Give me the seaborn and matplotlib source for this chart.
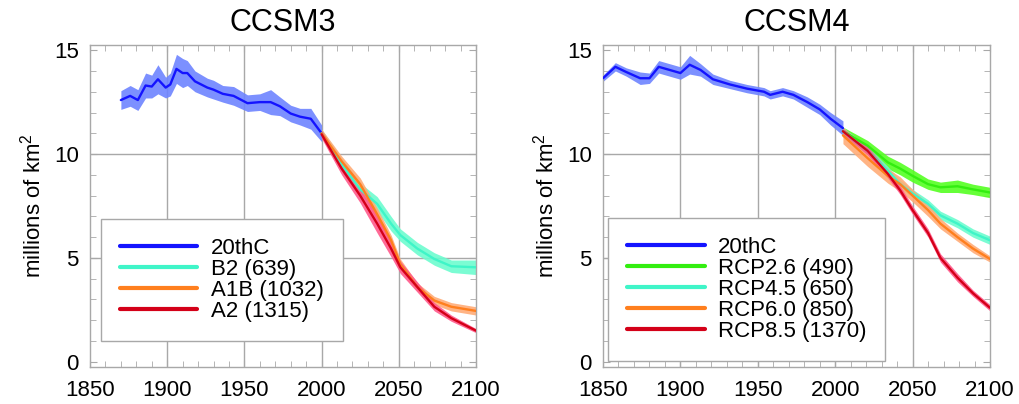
import numpy as np
import pandas as pd
import matplotlib
matplotlib.use("Agg")
import matplotlib.pyplot as plt
import seaborn as sns
from matplotlib.ticker import MultipleLocator

# ---------------- data ----------------
ccsm3_hist_years = [1870, 1876, 1881, 1886, 1890, 1894, 1899, 1902, 1906, 1910, 1913, 1918,
                    1926, 1930, 1936, 1943, 1952, 1960, 1967, 1973, 1980, 1986, 1993, 2000]
ccsm3_hist = [12.6, 12.8, 12.6, 13.3, 13.25, 13.6, 13.2, 13.35, 14.1, 13.9, 13.9, 13.5,
              13.2, 13.1, 12.9, 12.8, 12.45, 12.5, 12.5, 12.3, 11.95, 11.8, 11.7, 11.0]
ccsm3_hist_spread = [0.45, 0.5, 0.5, 0.6, 0.55, 0.7, 0.5, 0.55, 0.7, 0.7, 0.6, 0.5,
                     0.45, 0.45, 0.4, 0.45, 0.4, 0.4, 0.6, 0.45, 0.4, 0.4, 0.5, 0.4]

ccsm3_fut_years = [2000, 2013, 2025, 2036, 2045, 2051, 2062, 2073, 2084, 2100]
ccsm3_b2 = [11.0, 9.5, 8.3, 7.6, 6.65, 6.1, 5.45, 4.95, 4.6, 4.55]
ccsm3_a1b = [11.0, 9.65, 8.55, 7.1, 5.85, 4.7, 3.6, 2.95, 2.65, 2.45]
ccsm3_a2 = [10.95, 9.3, 8.0, 6.65, 5.45, 4.55, 3.6, 2.65, 2.1, 1.5]
ccsm3_b2_spread = [0.2, 0.3, 0.3, 0.35, 0.35, 0.3, 0.3, 0.3, 0.3, 0.35]
ccsm3_a1b_spread = [0.2, 0.25, 0.3, 0.3, 0.25, 0.25, 0.2, 0.2, 0.2, 0.2]
ccsm3_a2_spread = [0.2, 0.3, 0.35, 0.45, 0.4, 0.3, 0.25, 0.2, 0.15, 0.1]

ccsm4_hist_years = [1850, 1858, 1865, 1874, 1880, 1886, 1893, 1900, 1906, 1913, 1921,
                    1932, 1943, 1954, 1958, 1966, 1973, 1982, 1990, 1997, 2005]
ccsm4_hist = [13.65, 14.2, 13.95, 13.65, 13.65, 14.2, 14.05, 13.9, 14.3, 14.05, 13.6,
              13.35, 13.15, 13.0, 12.85, 13.0, 12.85, 12.5, 12.15, 11.7, 11.25]
ccsm4_hist_spread = [0.15, 0.2, 0.2, 0.3, 0.25, 0.3, 0.3, 0.3, 0.45, 0.3, 0.25,
                     0.2, 0.2, 0.2, 0.2, 0.2, 0.2, 0.25, 0.25, 0.3, 0.35]

ccsm4_fut_years = [2005, 2021, 2034, 2042, 2050, 2060, 2068, 2079, 2089, 2100]
ccsm4_rcp26 = [11.1, 10.4, 9.6, 9.3, 8.95, 8.55, 8.4, 8.45, 8.3, 8.15]
ccsm4_rcp45 = [11.1, 10.15, 9.2, 8.55, 8.1, 7.6, 7.05, 6.65, 6.2, 5.85]
ccsm4_rcp60 = [10.9, 9.8, 8.95, 8.55, 8.0, 7.3, 6.65, 6.0, 5.45, 4.95]
ccsm4_rcp85 = [11.1, 10.15, 9.05, 8.25, 7.3, 6.2, 5.0, 4.05, 3.3, 2.6]
ccsm4_rcp26_spread = [0.2, 0.25, 0.3, 0.3, 0.3, 0.25, 0.25, 0.3, 0.25, 0.25]
ccsm4_rcp45_spread = [0.2, 0.2, 0.2, 0.2, 0.2, 0.2, 0.2, 0.2, 0.2, 0.2]
ccsm4_rcp60_spread = [0.4, 0.4, 0.35, 0.35, 0.3, 0.3, 0.25, 0.2, 0.2, 0.15]
ccsm4_rcp85_spread = [0.15, 0.2, 0.2, 0.2, 0.2, 0.2, 0.2, 0.2, 0.15, 0.15]

ccsm3_labels = ["20thC", "B2 (639)", "A1B (1032)", "A2 (1315)"]
ccsm4_labels = ["20thC", "RCP2.6 (490)", "RCP4.5 (650)", "RCP6.0 (850)", "RCP8.5 (1370)"]
x_ticks = [1850, 1900, 1950, 2000, 2050, 2100]
y_ticks = [0, 5, 10, 15]

# ---------------- styles ----------------
line_colors = {"blue": "#1414ff", "aqua": "#3ff5c8", "orange": "#ff7f1e",
               "red": "#d40018", "green": "#33ee10"}
band_colors = {"blue": "#6e84ff", "aqua": "#6dfccf", "orange": "#ffac78",
               "red": "#ff5a8c", "green": "#55ff22"}

sns.set_style("ticks")
plt.rcParams["font.family"] = ["Liberation Sans", "DejaVu Sans"]
plt.rcParams["mathtext.fontset"] = "custom"
plt.rcParams["mathtext.rm"] = "Liberation Sans"
plt.rcParams["mathtext.it"] = "Liberation Sans"
plt.rcParams["text.color"] = "black"
plt.rcParams["axes.labelcolor"] = "black"

fig = plt.figure(figsize=(10.19, 4.04), dpi=100)
ax1 = fig.add_axes([90 / 1019, 37 / 404, 386 / 1019, 322 / 404])
ax2 = fig.add_axes([603 / 1019, 37 / 404, 387 / 1019, 322 / 404])

panel1 = [(ccsm3_hist_years, ccsm3_hist, ccsm3_hist_spread, ccsm3_labels[0], "blue"),
          (ccsm3_fut_years, ccsm3_b2, ccsm3_b2_spread, ccsm3_labels[1], "aqua"),
          (ccsm3_fut_years, ccsm3_a1b, ccsm3_a1b_spread, ccsm3_labels[2], "orange"),
          (ccsm3_fut_years, ccsm3_a2, ccsm3_a2_spread, ccsm3_labels[3], "red")]
panel2 = [(ccsm4_hist_years, ccsm4_hist, ccsm4_hist_spread, ccsm4_labels[0], "blue"),
          (ccsm4_fut_years, ccsm4_rcp26, ccsm4_rcp26_spread, ccsm4_labels[1], "green"),
          (ccsm4_fut_years, ccsm4_rcp45, ccsm4_rcp45_spread, ccsm4_labels[2], "aqua"),
          (ccsm4_fut_years, ccsm4_rcp60, ccsm4_rcp60_spread, ccsm4_labels[3], "orange"),
          (ccsm4_fut_years, ccsm4_rcp85, ccsm4_rcp85_spread, ccsm4_labels[4], "red")]

grid_c = "#a8a8a8"


def draw(ax, panel, title, legend_anchor):
    rows = []
    for yrs, vals, spr, lab, col in panel:
        for y, v, s in zip(yrs, vals, spr):
            rows.append({"year": y, "extent": v, "spread": s, "scenario": lab})
    df = pd.DataFrame(rows)
    order = [p[3] for p in panel]
    palette = {p[3]: line_colors[p[4]] for p in panel}
    for yrs, vals, spr, lab, col in panel:
        sub = df[df["scenario"] == lab]
        ax.fill_between(sub["year"], sub["extent"] - sub["spread"],
                        sub["extent"] + sub["spread"], color=band_colors[col],
                        lw=0, alpha=0.9, zorder=2)
    sns.lineplot(data=df, x="year", y="extent", hue="scenario", hue_order=order,
                 palette=palette, estimator=None, lw=1.7, ax=ax, zorder=3)
    ax.set_xlim(1850, 2100)
    ax.set_ylim(-0.25, 15.25)
    ax.set_xticks(x_ticks)
    ax.set_yticks(y_ticks)
    ax.xaxis.set_minor_locator(MultipleLocator(10))
    ax.yaxis.set_minor_locator(MultipleLocator(1))
    ax.tick_params(which="both", direction="in", top=True, right=True,
                   color=grid_c, labelsize=16, labelcolor="black")
    ax.tick_params(axis="x", which="major", length=5, pad=9)
    ax.tick_params(axis="y", which="major", length=5, pad=8)
    ax.tick_params(which="minor", length=4)
    for sp in ax.spines.values():
        sp.set_color(grid_c)
        sp.set_linewidth(1.0)
    for xv in x_ticks[1:-1]:
        ax.axvline(xv, color=grid_c, lw=1.0, zorder=1)
    for yv in [5, 10]:
        ax.axhline(yv, color=grid_c, lw=1.0, zorder=1)
    ax.set_xlabel("")
    ax.set_ylabel("millions of km$^2$", fontsize=16, labelpad=6)
    ax.set_title(title, fontsize=22, pad=10, color="black")
    handles, labels = ax.get_legend_handles_labels()
    leg = ax.legend(handles, labels, loc="lower left", bbox_to_anchor=legend_anchor,
                    fontsize=16, handlelength=3.5, handletextpad=0.6,
                    labelspacing=0.0, borderpad=0.85, borderaxespad=0,
                    fancybox=False, framealpha=1, edgecolor=grid_c)
    leg.get_frame().set_linewidth(1.0)
    for h in leg.get_lines():
        h.set_linewidth(3.0)


draw(ax1, panel1, "CCSM3", (0.028, 0.081))
draw(ax2, panel2, "CCSM4", (0.013, 0.019))

fig.savefig("out.png", dpi=100)
